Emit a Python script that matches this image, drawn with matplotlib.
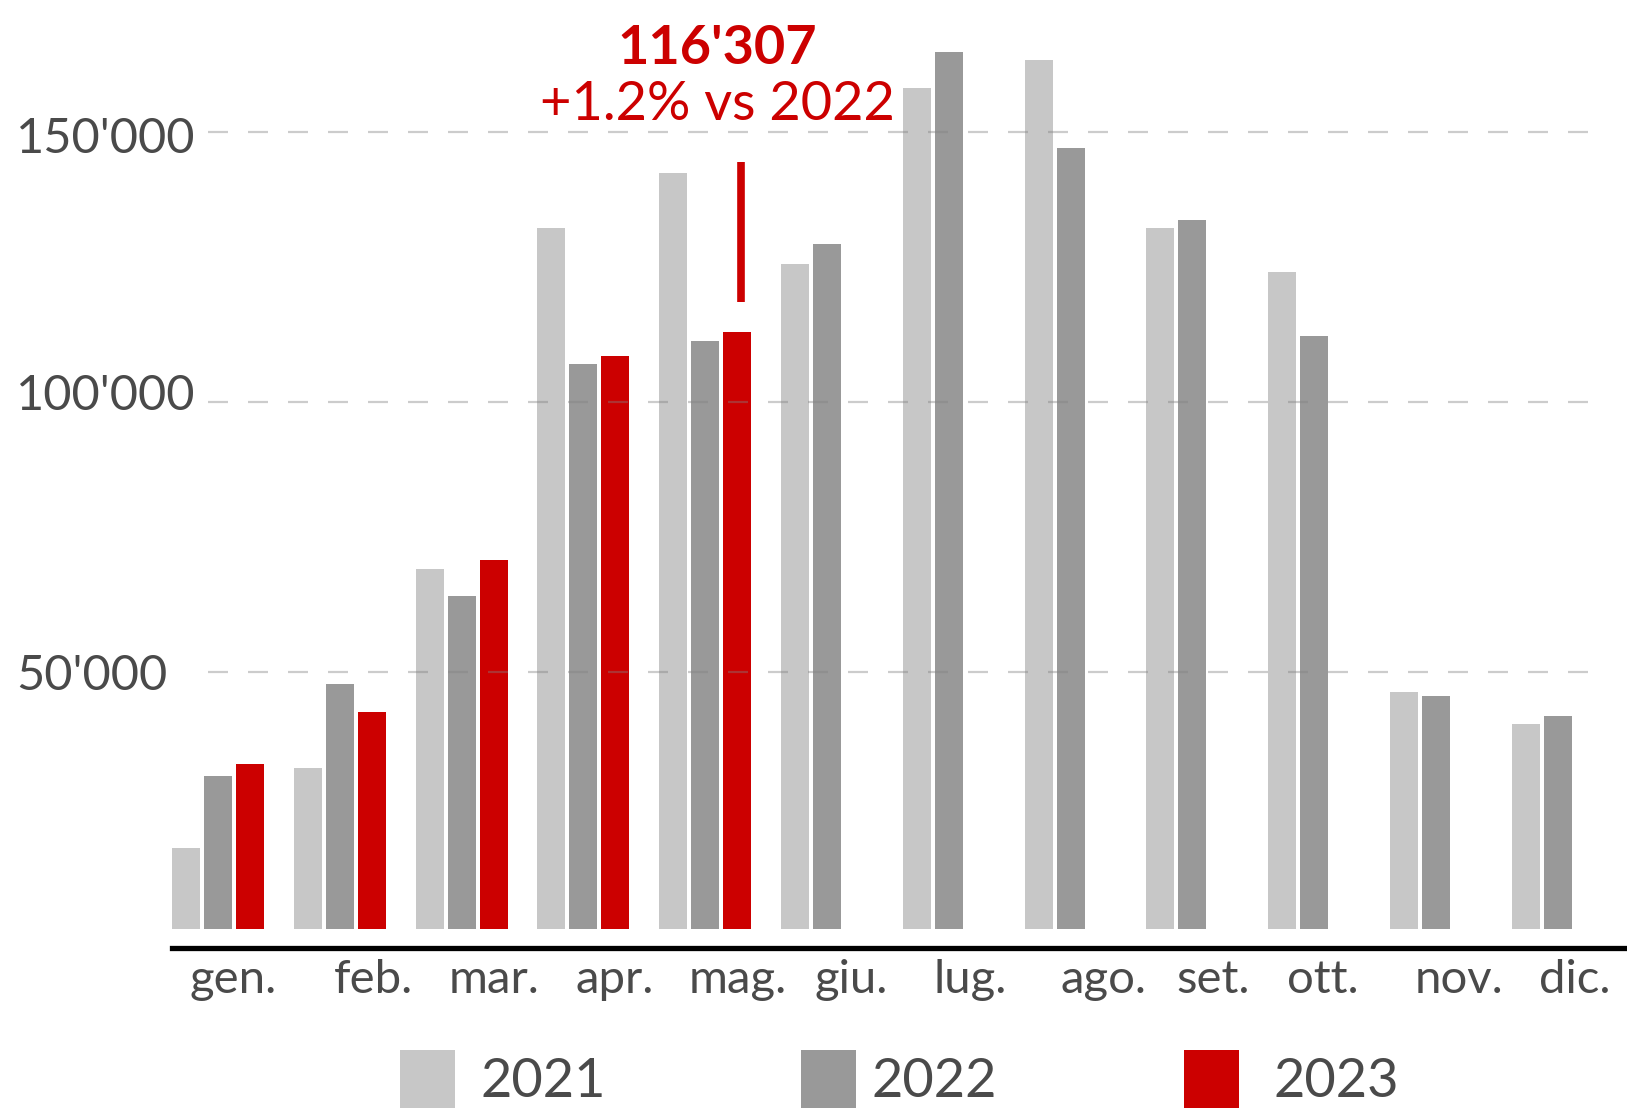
import numpy as np
import matplotlib
matplotlib.use("Agg")
import matplotlib.pyplot as plt
import matplotlib.transforms as mtransforms
from matplotlib.patches import Rectangle

plt.rcParams['font.family'] = ['Lato', 'DejaVu Sans']

# dati
mesi = ["gen.", "feb.", "mar.", "apr.", "mag.", "giu.", "lug.", "ago.", "set.", "ott.", "nov.", "dic."]
anni = ["2021", "2022", "2023"]
v2021 = [17400, 32200, 69200, 132200, 142500, 125500, 158100, 163300, 132200, 124000, 46300, 40400]
v2022 = [30800, 47800, 64100, 107000, 111400, 129200, 164800, 147000, 133700, 112200, 45600, 41900]
v2023 = [33000, 42600, 70700, 108500, 112900]
yticks = [50000, 100000, 150000]
ytick_labels = ["50'000", "100'000", "150'000"]
nota_valore = "116'307"
nota_delta = "+1.2% vs 2022"

colori = ["#c7c7c7", "#999999", "#cc0000"]
grigio_testo = "#4a4a4a"
rosso = "#cc0000"

W, H = 1627, 1108
fig = plt.figure(figsize=(W / 100, H / 100), dpi=100)
ax = fig.add_axes([172 / W, (H - 948.3) / H, (W - 172) / W, 948.3 / H])

passo = 0.2627   # distanza tra le barre di uno stesso mese
larghezza = 0.23
base = 2500      # le barre partono poco sopra lo zero

for k, valori in enumerate([v2021, v2022, v2023]):
    x = np.arange(len(valori)) + k * passo
    ax.bar(x, np.array(valori) - base, bottom=base, width=larghezza,
           color=colori[k], linewidth=0, zorder=2)

ax.set_xlim(-0.115, 11.831)
ax.set_ylim(-1083, 174431)

# griglia tratteggiata sopra le barre
for y in yticks:
    ax.axhline(y, xmin=(208 - 172) / 1455, xmax=(1593 - 172) / 1455,
               color="#808080", alpha=0.4, lw=1.6, linestyle=(0, (9, 9)), zorder=3)

for s in ["top", "right", "left"]:
    ax.spines[s].set_visible(False)
ax.spines["bottom"].set_linewidth(3.8)
ax.spines["bottom"].set_color("black")
ax.set_xticks([])
ax.set_yticks([])

# etichette asse y (leggermente sfalsate come nell'originale, in punti)
spost_y = [0, 7, -2]
trans_y = mtransforms.blended_transform_factory(ax.transAxes, ax.transData)
for y, lab, dy in zip(yticks, ytick_labels, spost_y):
    tr = mtransforms.offset_copy(trans_y, fig=fig, y=dy, units="points")
    ax.text((16 - 172) / 1455, y, lab, transform=tr, ha="left", va="center_baseline",
            fontsize=35, color=grigio_testo, clip_on=False)

# etichette dei mesi (posizione un po' irregolare come nell'originale)
spost = [0.39, 0.54, 0.53, 0.52, 0.53, 0.46, 0.44, 0.53, 0.43, 0.33, 0.45, 0.40]
trans_x = mtransforms.blended_transform_factory(ax.transData, ax.transAxes)
trans_x = mtransforms.offset_copy(trans_x, fig=fig, y=-32.2, units="points")
for i, (m, d) in enumerate(zip(mesi, spost)):
    ax.text(i + d, 0, m, transform=trans_x, ha="center", va="baseline",
            fontsize=34, color=grigio_testo, clip_on=False)

# annotazione maggio 2023
xm = 4 + 2 * passo
ax.plot([xm + 0.03, xm + 0.03], [118480, 144500], color=rosso, lw=5.5,
        solid_capstyle="butt", zorder=4)
ax.text(xm - 0.165, 162530, nota_valore, ha="center", va="baseline",
        fontsize=39, fontweight="bold", color=rosso, clip_on=False)
ax.text(xm - 0.165, 152220, nota_delta, ha="center", va="baseline",
        fontsize=39, color=rosso, clip_on=False)

# legenda manuale
quadrati = [400, 801, 1184]
testi = [480, 871, 1273]
for anno, col, xq, xt in zip(anni, colori, quadrati, testi):
    fig.add_artist(Rectangle((xq / W, (H - 1120) / H), 55 / W, 70 / H,
                             transform=fig.transFigure, color=col, lw=0))
    fig.text(xt / W, (H - 1097) / H, anno, ha="left", va="baseline",
             fontsize=39, color=grigio_testo)

fig.savefig("out.png", dpi=100)
